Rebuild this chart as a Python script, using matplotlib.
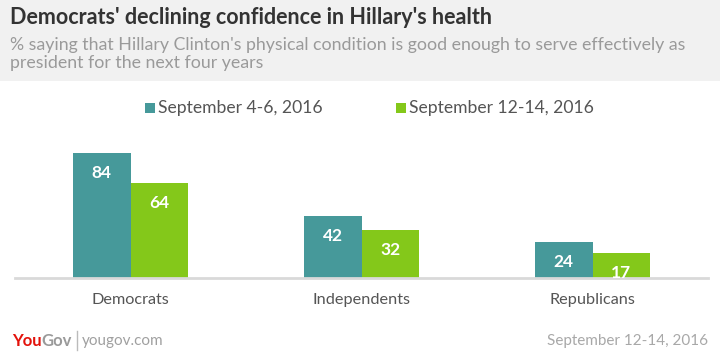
import matplotlib
matplotlib.use("Agg")
import matplotlib.pyplot as plt
from matplotlib.patches import Rectangle
import numpy as np

categories = ["Democrats", "Independents", "Republicans"]
series_names = ["September 4-6, 2016", "September 12-14, 2016"]
sept_4_6 = [84, 42, 24]
sept_12_14 = [64, 32, 17]
colors = ["#46999a", "#84c81a"]

title = "Democrats' declining confidence in Hillary's health"
subtitle = ("% saying that Hillary Clinton's physical condition is good enough to serve effectively as\n"
            "president for the next four years")
date_text = "September 12-14, 2016"

W, H = 720, 356
fig = plt.figure(figsize=(W / 100, H / 100), dpi=100)
fig.patch.set_facecolor("white")
FONT = "Lato"

def fx(x):
    return x / W

def fy(y):
    return 1 - y / H

# header background
fig.patches.append(Rectangle((0, fy(81)), 1, 81 / H, transform=fig.transFigure,
                             facecolor="#f1f1f1", edgecolor="none", zorder=0))
fig.text(fx(10), fy(18), title, fontsize=15.5, fontweight="bold", color="#333333",
         family=FONT, va="center", ha="left")
fig.text(fx(10), fy(54), subtitle, fontsize=12.8, color="#9a9a9a", family=FONT,
         va="center", ha="left", linespacing=1.1)

# axes
base_y = 278
px_per_unit = 1.488
top_y = base_y - 100 * px_per_unit
ax = fig.add_axes([fx(15), fy(base_y), fx(708) - fx(15), (base_y - top_y) / H])
ax.set_xlim(-0.5, 2.5)
ax.set_ylim(0, 100)
x = np.arange(len(categories))
bw = 0.249
b1 = ax.bar(x - bw / 2, sept_4_6, bw, color=colors[0], edgecolor="none")
b2 = ax.bar(x + bw / 2, sept_12_14, bw, color=colors[1], edgecolor="none")
for bars, vals in ((b1, sept_4_6), (b2, sept_12_14)):
    for rect, v in zip(bars, vals):
        ax.text(rect.get_x() + rect.get_width() / 2, v - 13.5, str(v), ha="center",
                va="center", color="white", fontsize=12.5, fontweight="bold", family=FONT)
for s in ["top", "left", "right"]:
    ax.spines[s].set_visible(False)
ax.spines["bottom"].set_color("#d9d9d9")
ax.spines["bottom"].set_linewidth(2)
ax.set_yticks([])
ax.set_xticks(x)
ax.set_xticklabels(categories, fontsize=11.7, color="#555555", family=FONT)
ax.tick_params(axis="x", length=0, pad=11)
ax.patch.set_alpha(0)

# legend
for sx, name, c in ((145, series_names[0], colors[0]), (396, series_names[1], colors[1])):
    fig.patches.append(Rectangle((fx(sx), fy(113)), 10 / W, 10 / H, transform=fig.transFigure,
                                 facecolor=c, edgecolor="none"))
    fig.text(fx(sx + 13), fy(108), name, fontsize=12.6, color="#555555", family=FONT,
             va="center", ha="left")

# footer
fig.canvas.draw()
renderer = fig.canvas.get_renderer()
t1 = fig.text(fx(12), fy(341), "You", fontsize=12, fontweight="bold", color="#e3120b",
              family=FONT, va="center", ha="left")
bb = t1.get_window_extent(renderer)
t2 = fig.text(bb.x1 / W, fy(341), "Gov", fontsize=12, fontweight="bold", color="#9a9a9a",
              family=FONT, va="center", ha="left")
bb2 = t2.get_window_extent(renderer)
bar_x = bb2.x1 + 5
fig.add_artist(plt.Line2D([bar_x / W, bar_x / W], [fy(350), fy(331)], transform=fig.transFigure,
                          color="#bbbbbb", linewidth=1))
fig.text((bar_x + 5) / W, fy(341), "yougov.com", fontsize=11, color="#a0a0a0", family=FONT,
         va="center", ha="left")
fig.text(fx(708), fy(341), date_text, fontsize=11, color="#a8a8a8", family=FONT,
         va="center", ha="right")

fig.savefig("out.png", dpi=100)
